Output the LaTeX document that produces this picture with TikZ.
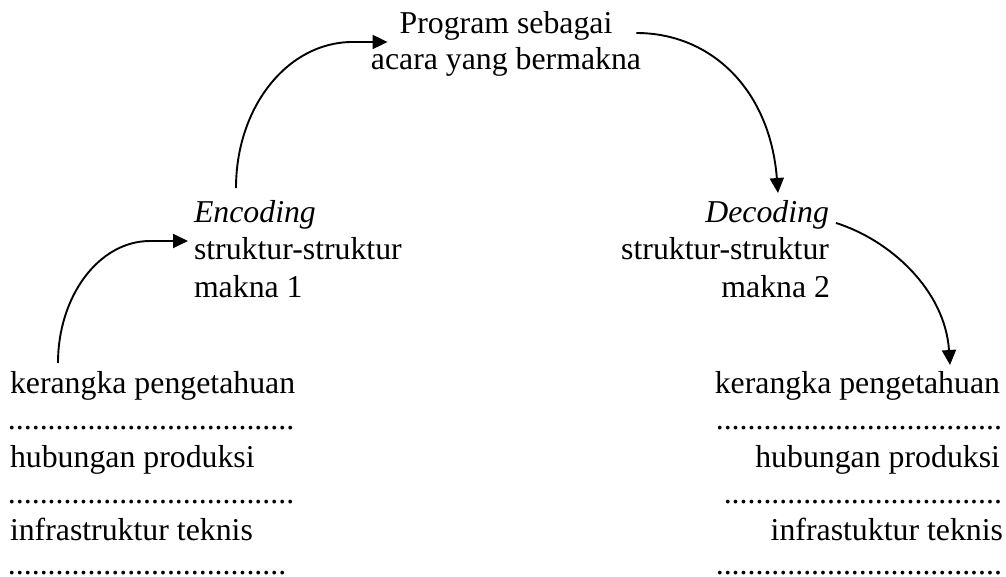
\documentclass[tikz,border=0pt]{standalone}
\usepackage{fontspec}
\setmainfont{Liberation Serif}
\usetikzlibrary{arrows.meta,calc}
\newcommand\dotrow[1]{\foreach\k in {1,...,#1}{.}}
\begin{document}
\begin{tikzpicture}[x=1pt,y=-1pt,
  txt/.style={inner sep=0pt, outer sep=0pt, font=\fontsize{31.8}{36}\selectfont},
  lft/.style={txt, anchor=base west},
  rgt/.style={txt, anchor=base east},
  ctr/.style={txt, anchor=base},
  flow/.style={line width=1.9pt, -{Triangle[length=15pt,width=14pt]}}]
\useasboundingbox (0,0) rectangle (1006,577);
% top
\node[ctr] (p1) at (506,34) {Program sebagai};
\node[ctr] (p2) at (506,70) {acara yang bermakna};
% encoding
\node[lft] (e1) at (194,223) {\textit{Encoding}};
\node[lft] (e2) at (194,260) {struktur-struktur};
\node[lft] (e3) at (194,297) {makna 1};
% decoding
\node[rgt] (d1) at (829,223) {\textit{Decoding}};
\node[rgt] (d2) at (829,260) {struktur-struktur};
\node[rgt] (d3) at (830,297) {makna 2};
% bottom left
\node[lft] (kl1) at (10,393) {kerangka pengetahuan};
\node[lft] (kl2) at (8,429) {\dotrow{36}};
\node[lft] (kl3) at (10,467) {hubungan produksi};
\node[lft] (kl4) at (8,503) {\dotrow{36}};
\node[lft] (kl5) at (10,540) {infrastruktur teknis};
\node[lft] (kl6) at (8,574) {\dotrow{35}};
% bottom right
\node[rgt] (kr1) at (1000,393) {kerangka pengetahuan};
\node[rgt] (kr2) at (1002,429) {\dotrow{36}};
\node[rgt] (kr3) at (1000,467) {hubungan produksi};
\node[rgt] (kr4) at (1002,503) {\dotrow{35}};
\node[rgt] (kr5) at (1003,540) {infrastuktur teknis};
\node[rgt] (kr6) at (1002,574) {\dotrow{36}};
% connectors
\draw[flow] ($(kl1.base west)+(48,-30)$) .. controls +(0,-67) and +(-51,0) .. ($(e2.base west)+(-44,-19)$) -- ($(e2.base west)+(-6,-19)$);
\draw[flow] ($(e1.base west)+(42,-35)$) .. controls +(0,-81) and +(-65,0) .. ($(p1.base west)+(-47,8)$) -- ($(p1.base west)+(-12,8)$);
\draw[flow] ($(p1.base east)+(24,-1)$) .. controls +(75,0) and +(-8,-103) .. ($(d1.base east)+(-51,-30)$);
\draw[flow] ($(d1.base east)+(7,0)$) .. controls +(54,17) and +(-5,-75) .. ($(kr1.base east)+(-50,-28)$);
\end{tikzpicture}
\end{document}
